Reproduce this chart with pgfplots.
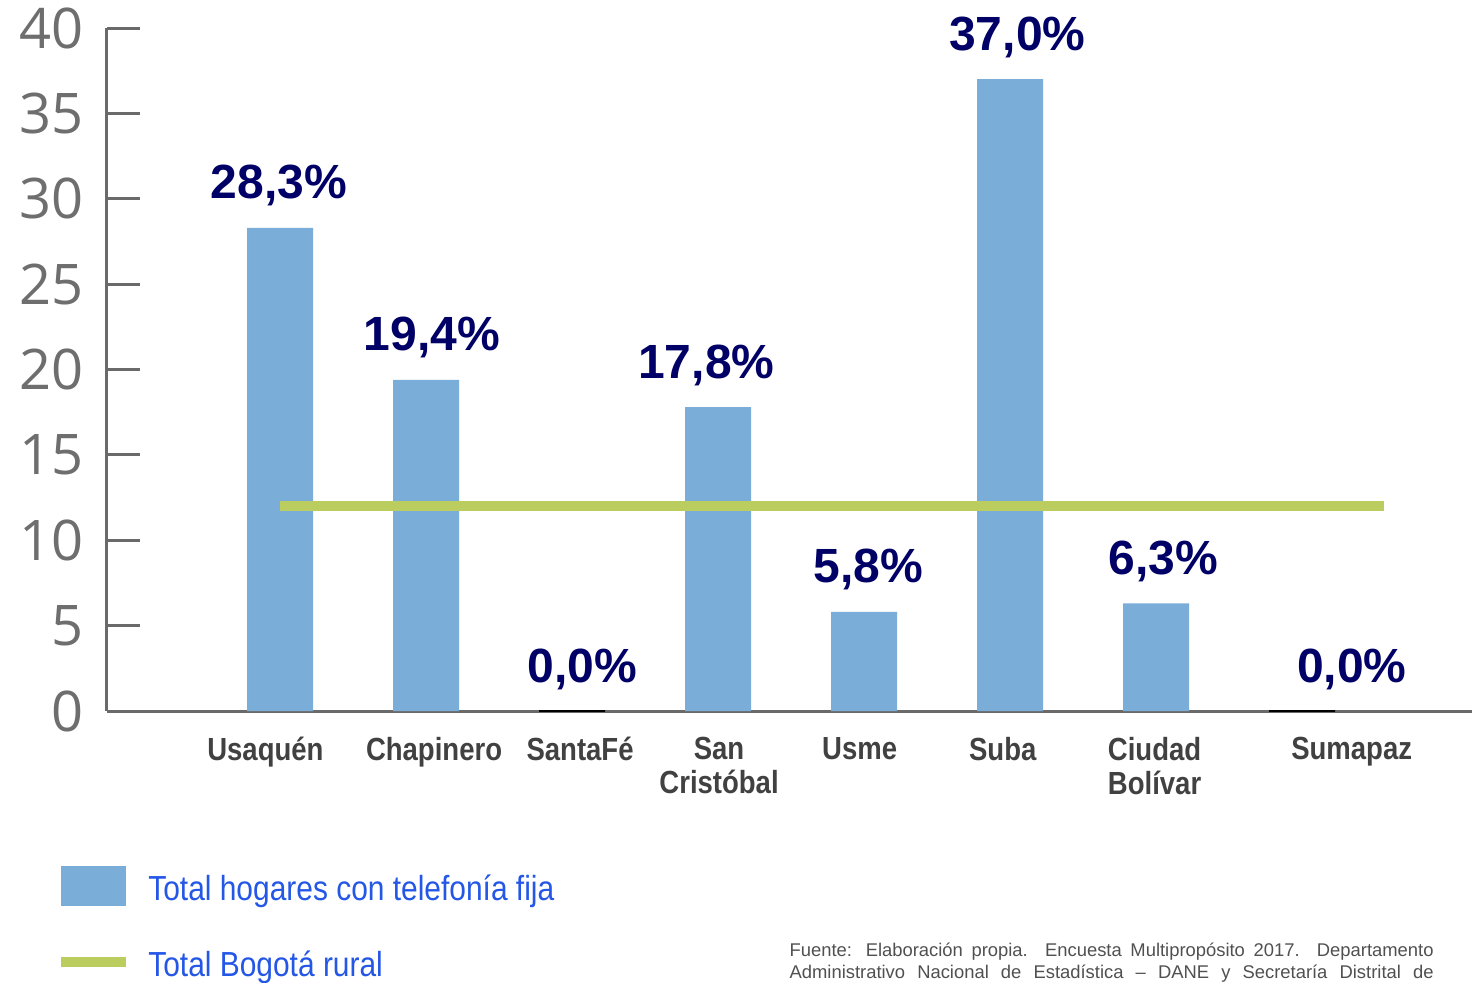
\documentclass[border=0pt]{standalone}
\usepackage{pgfplots}
\pgfplotsset{compat=1.18}
\usepackage{fontspec}
\setmainfont{Liberation Sans}
\newfontfamily\condfont[FakeStretch=0.86]{Liberation Sans}
\newfontfamily\tickfont{Open Sans}
\definecolor{barblue}{HTML}{7AAED8}
\definecolor{lgreen}{HTML}{BBCD5F}
\definecolor{navylab}{HTML}{000066}
\definecolor{catgray}{HTML}{414141}
\definecolor{tickgray}{HTML}{6E6E6E}
\definecolor{legblue}{HTML}{2457E6}
\definecolor{axgray}{HTML}{6A6A6A}
\definecolor{srcgray}{HTML}{505050}

\pgfplotstableread{
x y
0 28.3
1 19.4
2 0
3 17.8
4 5.8
5 37.0
6 6.3
7 0
}\bardata

\pgfplotstableread{
x y
-0.007 28.3
1.04 19.4
2.07 0
2.92 17.8
4.03 5.8
5.05 37.0
6.05 6.3
7.34 0
}\labdata

\begin{document}
\begin{tikzpicture}
\path[use as bounding box] (0,0) rectangle (736pt,491pt);
\begin{axis}[
  at={(53.5pt,135.5pt)}, anchor=south west,
  scale only axis, width=682.5pt, height=341.5pt,
  xmin=-1.185, xmax=8.164, ymin=0, ymax=40,
  axis x line=bottom, axis y line=left,
  axis line style={-, axgray, line width=1.5pt},
  ytick={0,5,...,40},
  ytick style={axgray, line width=1.5pt},
  tick align=inside, major tick length=16.5pt,
  /pgf/number format/assume math mode=true,
  yticklabel style={font=\tickfont\fontsize{28}{28}\selectfont, text=tickgray, inner sep=0pt, anchor=east, xshift=-11.5pt},
  xtick={-0.1,1.055,2.055,3.007,3.97,4.95,5.99,7.34},
  xticklabels={Usaquén, Chapinero, SantaFé, {San\\Cristóbal}, Usme, Suba, {Ciudad\\Bolívar}, Sumapaz},
  xtick style={draw=none},
  xticklabel style={font=\condfont\bfseries\fontsize{16}{17}\selectfont, text=catgray, align=center, inner sep=0pt, anchor=north, yshift=-13pt},
  clip=false,
  legend style={at={(axis description cs:-0.0374,-0.2269)}, anchor=north west, draw=none, fill=none, inner sep=0pt,
    font=\condfont\fontsize{17.4}{18}\selectfont, text=legblue, row sep=19.7pt, cells={anchor=west},
    /tikz/every odd column/.append style={column sep=6.5pt}},
]
\addplot[ybar, bar width=33pt, fill=barblue, draw=none,
  legend image code/.code={\fill[barblue] (0pt,-8.5pt) rectangle (32.5pt,11.5pt);}]
  table[x=x,y=y] {\bardata};
\addlegendentry{Total hogares con telefonía fija}
\addplot[lgreen, line width=5pt,
  legend image code/.code={\draw[lgreen, line width=5pt] (0pt,1.5pt) -- (32.5pt,1.5pt);}]
  coordinates {(0,12) (7.56,12)};
\addlegendentry{Total Bogotá rural}
\addplot[ybar, bar width=33pt, draw=black, line width=1pt, fill=none, forget plot]
  coordinates {(2,0) (7,0)};
\addplot[draw=none, mark=none, forget plot,
  nodes near coords={\pgfmathprintnumber[fixed, fixed zerofill, precision=1, use comma]{\pgfplotspointmeta}\%},
  every node near coord/.style={anchor=base, inner sep=0pt, yshift=14.5pt, font=\bfseries\fontsize{24}{24}\selectfont, text=navylab}]
  table[x=x,y=y] {\labdata};
\end{axis}
\node[anchor=north east, inner sep=0pt, font=\fontsize{9.2}{11}\selectfont, text=srcgray] at (717pt,20.7pt)
  {\begin{tabular}{@{}l@{}}\makebox[322pt][s]{Fuente: Elaboración propia. Encuesta Multipropósito 2017. Departamento}\\
   \makebox[322pt][s]{Administrativo Nacional de Estadística – DANE y Secretaría Distrital de}\end{tabular}};
\end{tikzpicture}
\end{document}
